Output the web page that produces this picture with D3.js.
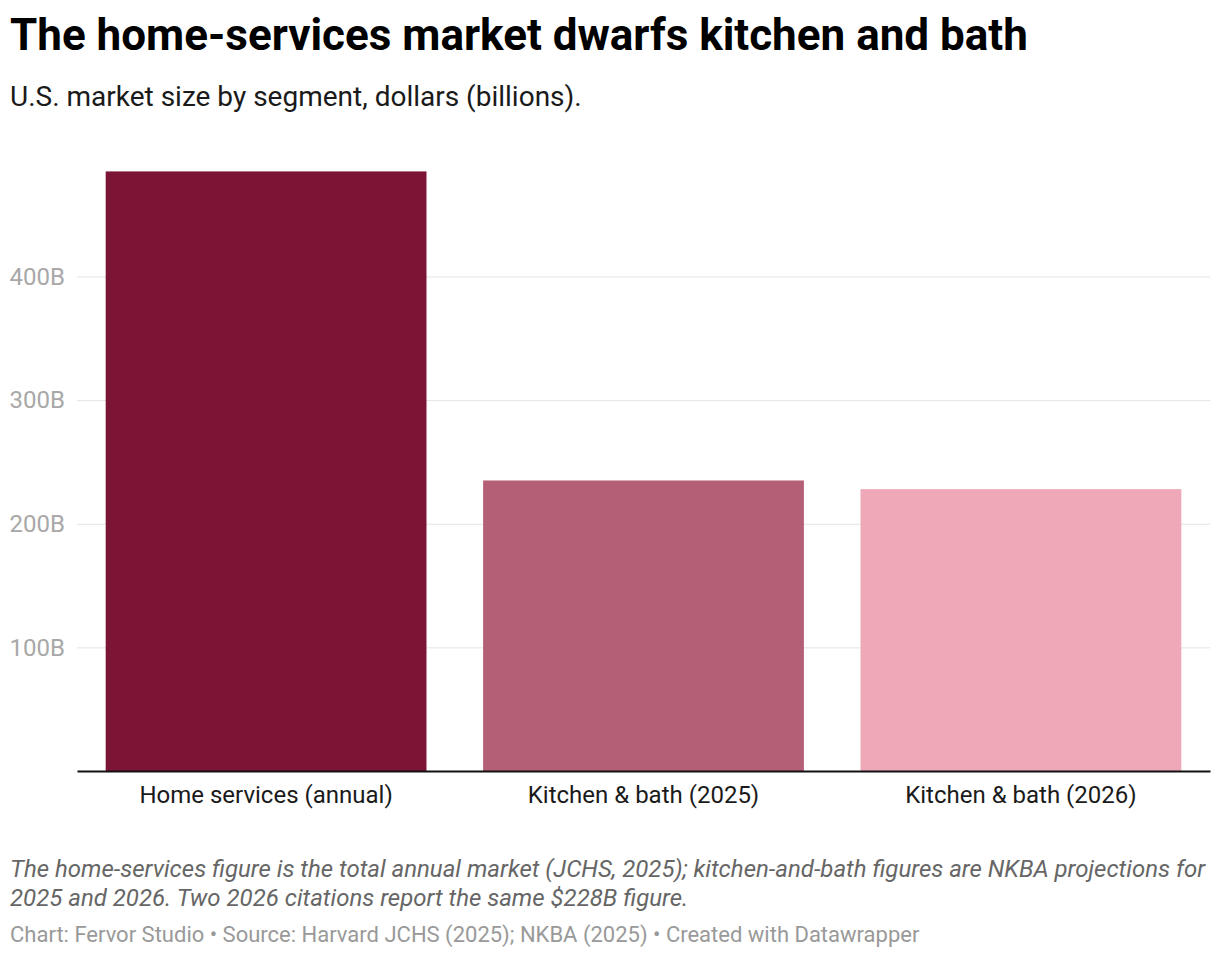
<!DOCTYPE html>
<html>
<head>
<meta charset="utf-8">
<script src="https://cdn.jsdelivr.net/npm/d3@7"></script>
<style>
  body { margin: 0; background: #fff; font-family: Roboto, "Noto Sans", sans-serif; }
</style>
</head>
<body>
<svg id="chart"></svg>
<script>
// data
var segments = ["Home services (annual)", "Kitchen & bath (2025)", "Kitchen & bath (2026)"];
var marketSize = [485, 235, 228];
var barColors = ["#7c1535", "#b55f76", "#efa8b8"];
var yTicks = [100, 200, 300, 400];

var W = 1220, H = 958;
var margin = { top: 155, right: 10, bottom: 187, left: 77 },
  width = W - margin.left - margin.right,
  height = H - margin.top - margin.bottom;

var svg = d3.select("#chart").attr("width", W).attr("height", H);

// header
svg.append("text")
  .attr("x", 10).attr("y", 50)
  .style("font-size", "44px").style("font-weight", 700).style("fill", "#000")
  .text("The home-services market dwarfs kitchen and bath");

svg.append("text")
  .attr("x", 10).attr("y", 106)
  .style("font-size", "28px").style("fill", "#1a1a1a")
  .text("U.S. market size by segment, dollars (billions).");

var g = svg.append("g")
  .attr("transform", "translate(" + margin.left + "," + margin.top + ")");

var x = d3.scaleBand().domain(segments).range([0, width])
  .paddingInner(0.15).paddingOuter(0.076);
var y = d3.scaleLinear().domain([0, 400]).range([height, height - 494.5]);

// gridlines + tick labels
var yAxis = g.append("g")
  .call(d3.axisLeft(y).tickValues(yTicks).tickSize(-width).tickFormat(d => d + "B"));
yAxis.select(".domain").remove();
yAxis.selectAll(".tick line").attr("stroke", "#e3e3e3").attr("stroke-width", 1);
yAxis.selectAll(".tick text")
  .attr("x", -12)
  .style("font-family", "Roboto, sans-serif")
  .style("font-size", "24px").style("fill", "#a8a8a8");

// bars
g.selectAll("rect.bar")
  .data(segments)
  .enter()
  .append("rect")
  .attr("class", "bar")
  .attr("x", d => x(d))
  .attr("width", x.bandwidth())
  .attr("y", (d, i) => y(marketSize[i]))
  .attr("height", (d, i) => y(0) - y(marketSize[i]))
  .style("fill", (d, i) => barColors[i]);

// baseline + category labels
var xAxis = g.append("g")
  .attr("transform", "translate(0," + height + ")")
  .call(d3.axisBottom(x).tickSize(0).tickPadding(15));
xAxis.select(".domain").attr("stroke", "#111").attr("stroke-width", 2);
xAxis.selectAll(".tick text")
  .style("font-family", "Roboto, sans-serif")
  .style("font-size", "24px").style("fill", "#1a1a1a");

// notes
var note = svg.append("text")
  .style("font-size", "24px").style("font-style", "italic").style("fill", "#666");
note.append("tspan").attr("x", 10).attr("y", 877)
  .text("The home-services figure is the total annual market (JCHS, 2025); kitchen-and-bath figures are NKBA projections for");
note.append("tspan").attr("x", 10).attr("y", 906)
  .text("2025 and 2026. Two 2026 citations report the same $228B figure.");

svg.append("text")
  .attr("x", 10).attr("y", 942)
  .style("font-size", "22px").style("fill", "#999")
  .text("Chart: Fervor Studio \u2022 Source: Harvard JCHS (2025); NKBA (2025) \u2022 Created with Datawrapper");
</script>
</body>
</html>
